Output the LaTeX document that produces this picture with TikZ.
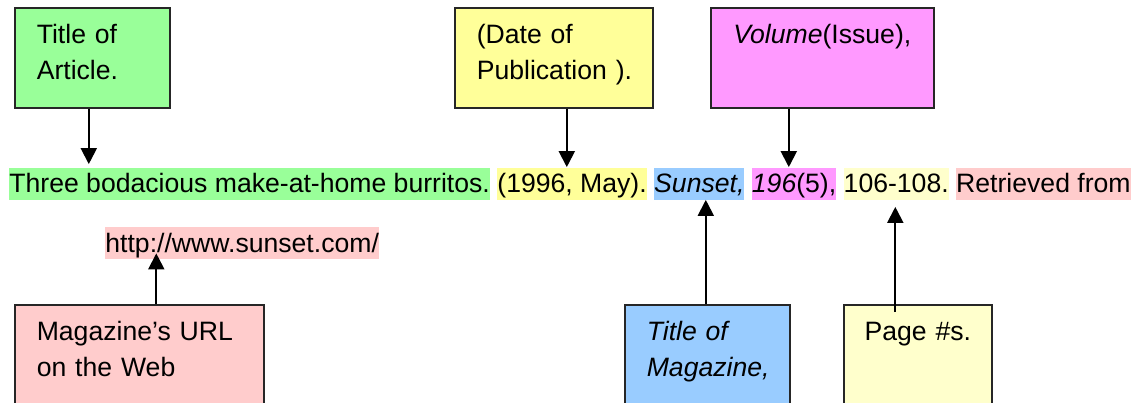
\documentclass[tikz,border=0pt]{standalone}
\usepackage{fontspec}
\setmainfont{Liberation Sans}
\usetikzlibrary{positioning, arrows.meta}
\definecolor{artgreen}{HTML}{99FF99}
\definecolor{dateyellow}{HTML}{FFFF99}
\definecolor{volpink}{HTML}{FF99FF}
\definecolor{magblue}{HTML}{99CCFF}
\definecolor{pageyellow}{HTML}{FFFFCC}
\definecolor{urlpink}{HTML}{FFCCCC}

\begin{document}
\begin{tikzpicture}[x=0.5pt, y=-0.5pt,
    font=\fontsize{13.3}{18}\selectfont,
    callout/.style={draw=black!85, line width=0.8pt, anchor=north west, inner xsep=11pt, inner ysep=0pt,
      text height=18pt, text depth=32pt, align=left},
    seg/.style={inner sep=0pt, text height=12.5pt, text depth=3.5pt},
    pointer/.style={line width=1pt, -{Triangle[length=8pt, width=8pt]}}]
  \useasboundingbox (0,0) rectangle (1134,402);

  \node[callout, fill=artgreen, text width=55.5pt] (artbox) at (14,7) {Title of\\Article.};
  \node[callout, fill=dateyellow, text width=77pt] (datebox) at (454,7) {(Date of\\\mbox{Publication ).}};
  \node[callout, fill=volpink, text width=89.5pt, align=center] (volbox) at (710,7) {\textit{Volume}(Issue),};
  \node[callout, fill=urlpink, text width=102.5pt] (urlbox) at (14,304) {Magazine’s URL\\on the Web};
  \node[callout, fill=magblue, text width=60.5pt] (magbox) at (624,304) {\textit{Title of}\\\textit{Magazine,}};
  \node[callout, fill=pageyellow, inner xsep=10pt, text width=54pt, align=center] (pagebox) at (843,304) {Page \#s.};

  \node[seg, fill=artgreen, anchor=base west] (article) at (9,192.5) {Three bodacious make-at-home burritos.};
  \node[seg, fill=dateyellow, right=3.35pt of article] (date) {(1996, May).};
  \node[seg, fill=magblue, right=3.35pt of date] (magazine) {\textit{Sunset,}};
  \node[seg, fill=volpink, right=3.35pt of magazine] (volume) {\textit{196}(5),};
  \node[seg, fill=pageyellow, right=3.35pt of volume] (pages) {106-108.};
  \node[seg, fill=urlpink, right=3.35pt of pages] (retrieved) {Retrieved from};
  \node[seg, fill=urlpink, anchor=base west] (url) at (105,252) {http://www.sunset.com/};

  \coordinate (artfoot) at ([xshift=-1.75pt]artbox.south);
  \coordinate (datefoot) at ([xshift=6.5pt]datebox.south);
  \coordinate (volfoot) at ([xshift=-16.75pt]volbox.south);
  \coordinate (urlhead) at ([xshift=8.5pt]urlbox.north);
  \coordinate (maghead) at ([xshift=-0.75pt]magbox.north);
  \coordinate (pagehead) at ([xshift=-11.25pt]pagebox.north);

  \draw[pointer, shorten >=1.5pt] (artfoot) -- (artfoot |- article.north);
  \draw[pointer] (datefoot) -- (datefoot |- date.north);
  \draw[pointer] (volfoot) -- (volfoot |- volume.north);
  \draw[pointer, shorten >=-3pt] (urlhead) -- (urlhead |- url.south);
  \draw[pointer] (maghead) -- (maghead |- magazine.south);
  \draw[pointer, shorten <=-4pt, shorten >=3.5pt] (pagehead) -- (pagehead |- pages.south);
\end{tikzpicture}
\end{document}
